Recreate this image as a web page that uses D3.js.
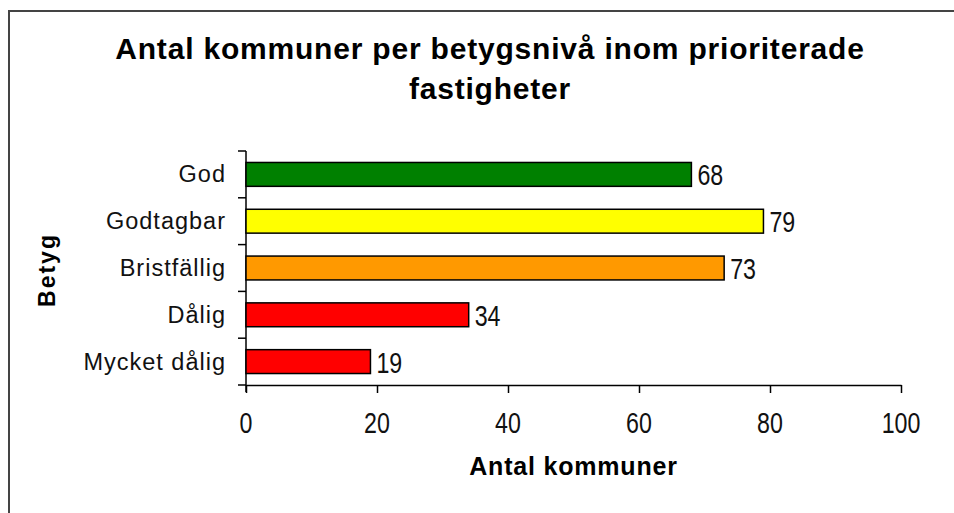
<!DOCTYPE html>
<html lang="sv">
<head>
  <meta charset="UTF-8">
  <title>Antal kommuner per betygsnivå</title>
  <script src="https://cdn.jsdelivr.net/npm/d3@7"></script>
  <style>
  body { margin: 0; background: #fff; }
  svg { display: block; font-family: "Liberation Sans", Arial, sans-serif; }
  .axis path, .axis line { stroke: #000; }
  .digits { font-size: 29px; fill: #111; }
  .cat { font-size: 23.5px; letter-spacing: 1px; fill: #111; }
  </style>
</head>
<body>
  <div id="chart"></div>
  <script>
  const categories = ['God', 'Godtagbar', 'Bristfällig', 'Dålig', 'Mycket dålig'];
  const values = [68, 79, 73, 34, 19];
  const barColors = ['#008000', '#FFFF00', '#FF9900', '#FF0000', '#FF0000'];
  const xTicks = [0, 20, 40, 60, 80, 100];
  const titleLines = ['Antal kommuner per betygsnivå inom prioriterade', 'fastigheter'];

  const width = 954, height = 513;
  const svg = d3.select('#chart').append('svg')
    .attr('width', width).attr('height', height);

  // outer frame (runs off right/bottom edge)
  svg.append('rect')
    .attr('x', 9).attr('y', 11)
    .attr('width', 1000).attr('height', 600)
    .attr('fill', 'none').attr('stroke', '#444').attr('stroke-width', 2);

  const x = d3.scaleLinear().domain([0, 100]).range([246, 901]);
  const y = d3.scaleBand().domain(categories).range([151, 385]).paddingInner(0.49).paddingOuter(0.245);
  const mid = d => y(d) + y.bandwidth() / 2;

  // x axis (labels drawn separately, narrow digits)
  const xAxis = svg.append('g').attr('class', 'axis')
    .attr('transform', 'translate(0,385)')
    .call(d3.axisBottom(x).tickValues(xTicks).tickSizeInner(8).tickSizeOuter(0).tickFormat(''));
  xAxis.select('.domain').attr('stroke-width', 1.5);
  xAxis.selectAll('.tick line').attr('stroke-width', 1.5);

  svg.append('g').selectAll('text').data(xTicks).join('text')
    .attr('class', 'digits')
    .attr('text-anchor', 'middle')
    .attr('transform', d => `translate(${x(d)},433) scale(0.8,1)`)
    .text(d => d);

  // y axis: ticks sit between categories
  const yTicks = d3.range(categories.length + 1).map(i => 151 + i * (385 - 151) / categories.length);
  const yg = svg.append('g').attr('class', 'axis');
  yg.append('line').attr('x1', x(0)).attr('x2', x(0)).attr('y1', 151).attr('y2', 392)
    .attr('stroke', '#000').attr('stroke-width', 1.5);
  yg.selectAll('line.tick').data(yTicks).join('line').attr('class', 'tick')
    .attr('x1', x(0) - 8).attr('x2', x(0)).attr('y1', d => d).attr('y2', d => d)
    .attr('stroke', '#000').attr('stroke-width', 1.5);
  yg.selectAll('text').data(categories).join('text')
    .attr('class', 'cat')
    .attr('x', x(0) - 20).attr('y', d => mid(d) + 8)
    .attr('text-anchor', 'end')
    .text(d => d);

  // bars
  svg.append('g').selectAll('rect').data(categories).join('rect')
    .attr('x', x(0)).attr('y', d => y(d))
    .attr('width', (d, i) => x(values[i]) - x(0))
    .attr('height', y.bandwidth())
    .attr('fill', (d, i) => barColors[i])
    .attr('stroke', '#000').attr('stroke-width', 1.5);

  // value labels
  svg.append('g').selectAll('text').data(categories).join('text')
    .attr('class', 'digits')
    .attr('transform', (d, i) => `translate(${x(values[i]) + 6},${mid(d) + 11}) scale(0.8,1)`)
    .text((d, i) => values[i]);

  // title
  svg.append('text')
    .attr('x', 490).attr('y', 59)
    .attr('text-anchor', 'middle')
    .attr('font-size', 30).attr('font-weight', 'bold')
    .attr('letter-spacing', 0.8)
    .selectAll('tspan').data(titleLines).join('tspan')
      .attr('x', 490).attr('dy', (d, i) => i ? 40 : 0)
      .text(d => d);

  // axis titles
  svg.append('text')
    .attr('x', (x(0) + x(100)) / 2).attr('y', 475)
    .attr('text-anchor', 'middle')
    .attr('font-size', 25).attr('font-weight', 'bold')
    .attr('letter-spacing', 0.8)
    .text('Antal kommuner');
  svg.append('text')
    .attr('transform', `translate(55,${(151 + 385) / 2 + 2}) rotate(-90)`)
    .attr('text-anchor', 'middle')
    .attr('font-size', 23).attr('font-weight', 'bold')
    .attr('letter-spacing', 2)
    .text('Betyg');
  </script>
</body>
</html>
